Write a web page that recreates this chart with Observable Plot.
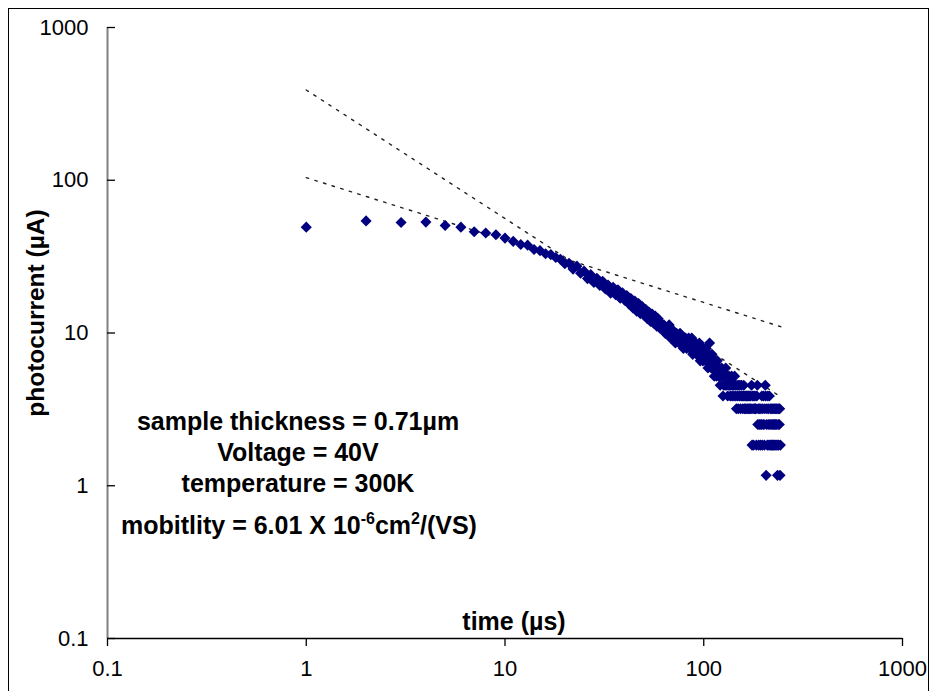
<!DOCTYPE html>
<html>
<head>
<meta charset="utf-8">
<script src="https://cdn.jsdelivr.net/npm/d3@7"></script>
<script src="https://cdn.jsdelivr.net/npm/@observablehq/plot@0.6"></script>
<style>
  html, body { margin: 0; padding: 0; background: #fff; overflow: hidden; }
  #wrap { position: relative; width: 930px; height: 691px; }
  #border { position: absolute; left: 8px; top: 8px; width: 919px; height: 720px;
            border: 1.5px solid #000; pointer-events: none; }
</style>
</head>
<body>
<div id="wrap"><div id="chart"></div><div id="border"></div></div>
<script>
// ---- data ----
const xTicks = [0.1, 1, 10, 100, 1000];
const xTickLabels = ["0.1", "1", "10", "100", "1000"];
const yTicks = [0.1, 1, 10, 100, 1000];
const yTickLabels = ["0.1", "1", "10", "100", "1000"];

const xTitle = "time (µs)";
const yTitle = "photocurrent (µA)";

const times = [
  1,2,3,4,5,6,7,8,9,10, 11,12,13,14,15,16,17,18,19,20,
  21,22,23,24,25,26,27,28,29,30, 31,32,33,34,35,36,37,38,39,40,
  41,42,43,44,45,46,47,48,49,50, 51,52,53,54,55,56,57,58,59,60,
  61,62,63,64,65,66,67,68,69,70, 71,72,73,74,75,76,77,78,79,80,
  81,82,83,84,85,86,87,88,89,90, 91,92,93,94,95,96,97,98,99,100,
  101,102,103,104,105,106,107,108,109,110, 111,112,113,114,115,116,117,118,119,120,
  121,122,123,124,125,126,127,128,129,130, 131,132,133,134,135,136,137,138,139,140,
  141,142,143,144,145,146,147,148,149,150, 151,152,153,154,155,156,157,158,159,160,
  161,162,163,164,165,166,167,168,169,170, 171,172,173,174,175,176,177,178,179,180,
  181,182,183,184,185,186,187,188,189,190, 191,192,193,194,195,196,197,198,199,200,
  201,202,203,204,205,206,207,208,209,210, 211,212,213,214,215,216,217,218,219,220,
  221,222,223,224,225,226,227,228,229,230, 231,232,233,234,235,236,237,238,239,240,
  241,242,243
];
const current = [
  49.3, 54.2, 52.9, 53.2, 50.6, 49.3, 46.0, 45.1, 44.0, 41.8,
  39.8, 38.0, 37.6, 35.2, 34.6, 33.0, 32.6, 31.2, 30.4, 28.4,
  28.6, 26.2, 27.4, 24.6, 25.4, 22.7, 24.1, 21.4, 22.8, 20.5,
  21.8, 19.4, 20.6, 18.2, 19.9, 17.8, 19.2, 16.9, 18.3, 16.4,
  17.6, 15.5, 16.8, 14.6, 16.2, 13.9, 15.6, 13.4, 14.9, 13.1,
  14.3, 12.4, 13.7, 11.9, 13.3, 11.6, 12.9, 11.1, 12.4, 10.8,
  11.6, 10.62, 11.3, 9.95, 10.62, 9.95, 11.3, 9.27, 10.62, 9.27,
  9.95, 8.6, 9.95, 9.27, 8.6, 9.95, 8.6, 9.27, 7.92, 8.6,
  9.27, 7.92, 8.6, 9.27, 7.92, 8.6, 9.27, 7.25, 8.6, 7.92,
  8.6, 7.25, 7.92, 7.25, 8.6, 6.57, 7.92, 7.25, 6.57, 7.92,
  7.25, 6.57, 7.92, 6.57, 5.9, 7.25, 8.6, 6.57, 5.9, 7.25,
  5.9, 6.57, 5.22, 6.57, 5.9, 5.22, 6.57, 5.9, 5.22, 5.9,
  4.545, 5.22, 5.9, 5.22, 3.87, 4.545, 5.22, 4.545, 5.9, 4.545,
  5.22, 3.87, 4.545, 5.22, 4.545, 3.87, 4.545, 5.22, 3.87, 4.545,
  4.545, 3.87, 5.22, 4.545, 3.87, 3.195, 4.545, 3.87, 3.195, 4.545,
  3.87, 4.545, 3.195, 3.87, 4.545, 3.87, 3.195, 3.87, 4.545, 3.195,
  3.87, 3.195, 3.87, 3.87, 3.195, 3.87, 3.195, 3.87, 3.195, 3.87,
  3.195, 3.87, 3.195, 4.545, 1.845, 3.87, 3.195, 1.845, 3.87, 3.195,
  3.87, 3.195, 3.195, 1.845, 3.87, 4.545, 2.52, 3.195, 1.845, 2.52,
  3.195, 2.52, 1.845, 3.195, 2.52, 3.87, 1.845, 3.195, 2.52, 3.87,
  2.52, 1.845, 3.195, 4.545, 3.87, 1.17, 2.52, 3.195, 1.845, 3.87,
  2.52, 3.195, 1.845, 3.87, 2.52, 1.845, 3.195, 2.52, 1.845, 3.195,
  2.52, 1.845, 3.195, 2.52, 1.845, 3.195, 2.52, 1.845, 3.195, 2.52,
  1.845, 3.195, 2.52, 1.845, 1.17, 3.195, 2.52, 1.845, 3.195, 2.52,
  3.195, 1.17, 1.845
];

// power-law trend lines (straight on log-log), end points
const steepX = [1, 238];
const steepY = [390, 3.9];
const shallowX = [1, 244];
const shallowY = [104, 11.0];

const noteLines = [
  "sample thickness = 0.71µm",
  "Voltage = 40V",
  "temperature = 300K"
];
const noteLast = [
  {t: "mobitlity = 6.01 X 10", sup: false},
  {t: "-6", sup: true},
  {t: "cm", sup: false},
  {t: "2", sup: true},
  {t: "/(VS)", sup: false}
];

// ---- build tables ----
const points = times.map((t, i) => ({t, v: current[i]}));
const steep = steepX.map((x, i) => ({x, y: steepY[i]}));
const shallow = shallowX.map((x, i) => ({x, y: shallowY[i]}));

const FONT = "'Liberation Sans', Arial, Helvetica, sans-serif";
const W = 930, H = 691, ML = 107, MR = 28, MT = 27, MB = 53;

const chart = Plot.plot({
  width: W, height: H,
  marginLeft: ML, marginRight: MR, marginTop: MT, marginBottom: MB,
  style: {fontFamily: FONT, background: "transparent", overflow: "visible", color: "#000"},
  x: {type: "log", domain: [0.1, 1000]},
  y: {type: "log", domain: [0.1, 1000]},
  marks: [
    Plot.ruleX([0.1], {stroke: "#808080", strokeWidth: 2}),
    Plot.tickY(yTicks, {y: d => d, insetRight: W - ML - MR - 8, stroke: "#000", strokeWidth: 1.3}),
    Plot.axisY({ticks: yTicks, tickSize: 0, tickPadding: 19, fontSize: 22,
      tickFormat: d => yTickLabels[yTicks.indexOf(d)], label: null}),
    Plot.axisX({ticks: xTicks, tickSize: 8, tickPadding: 14, fontSize: 22, stroke: "#000",
      strokeWidth: 1.3, tickFormat: d => xTickLabels[xTicks.indexOf(d)], label: null}),
    Plot.line(steep, {x: "x", y: "y", stroke: "#222", strokeWidth: 1.4, strokeDasharray: "2.5,6.5"}),
    Plot.line(shallow, {x: "x", y: "y", stroke: "#222", strokeWidth: 1.4, strokeDasharray: "2.5,6.5"}),
    Plot.dot(points, {x: "t", y: "v", symbol: "diamond2", r: 5, fill: "#000080", stroke: "none"}),
    Plot.ruleY([0.1], {stroke: "#000", strokeWidth: 1.6}),
    Plot.text([xTitle], {frameAnchor: "bottom", text: d => d, dx: 9, dy: -17,
      lineAnchor: "middle", fontSize: 25, fontWeight: "bold", fill: "#000"}),
    Plot.text([yTitle], {frameAnchor: "left", text: d => d, textAnchor: "middle", dx: -71, dy: -20, rotate: -90,
      lineAnchor: "middle", fontSize: 24.5, fontWeight: "bold", fill: "#000"})
  ]
});
document.getElementById("chart").appendChild(chart);

// annotation text box (real SVG text, with superscripts)
const svg = d3.select(chart.tagName.toLowerCase() === "svg" ? chart : chart.querySelector("svg"));
const note = svg.append("g")
  .attr("font-family", FONT).attr("font-weight", "bold").attr("font-size", 25)
  .attr("text-anchor", "middle").attr("fill", "#000");
const baselines = [430, 461, 492];
noteLines.forEach((s, i) => {
  note.append("text").attr("x", 298).attr("y", baselines[i]).text(s);
});
const last = note.append("text").attr("x", 299).attr("y", 534);
noteLast.forEach(p => {
  last.append("tspan")
    .attr("font-size", p.sup ? 16 : 25)
    .attr("baseline-shift", p.sup ? "10" : "0")
    .text(p.t);
});
</script>
</body>
</html>
